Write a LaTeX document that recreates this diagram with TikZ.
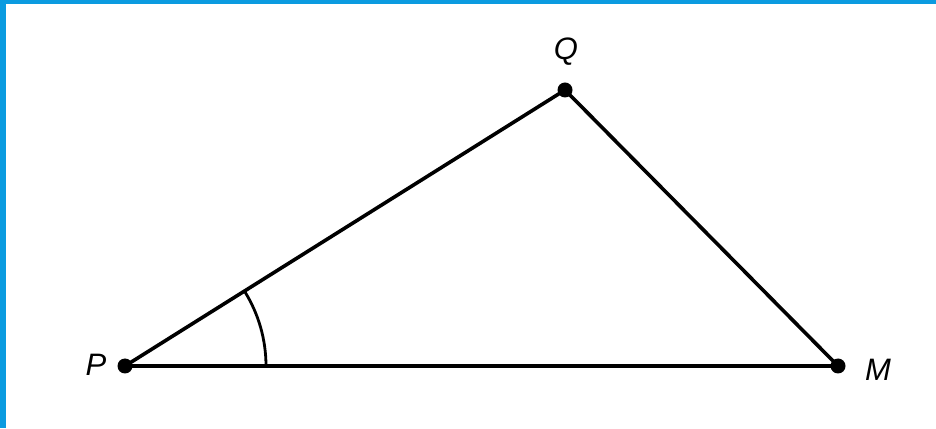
\documentclass[tikz,border=0pt]{standalone}
\usepackage{fontspec}
\setmainfont{Liberation Sans}
\definecolor{frameblue}{RGB}{11,155,224}
\begin{document}
\begin{tikzpicture}[x=1pt,y=1pt,
  edge/.style={line width=3.6pt,black},
  dot/.style={circle,fill=black,inner sep=0pt,minimum size=15pt},
  lab/.style={font=\fontsize{31}{31}\selectfont\itshape,inner sep=0pt}]
\useasboundingbox (0,0) rectangle (936,428);
\fill[white] (0,0) rectangle (936,428);
\fill[frameblue] (0,0) rectangle (6,428);
\fill[frameblue] (0,424) rectangle (936,428);
\coordinate (P) at (125,62);
\coordinate (Q) at (565,338);
\coordinate (M) at (838,62);
\draw[edge,line join=round] (P) -- (Q) -- (M) -- cycle;
\draw[line width=2.8pt] ([shift={(0:141)}]P) arc[start angle=0,end angle=32.1,radius=141];
\node[dot] (p) at (P) {};
\node[dot] (q) at (Q) {};
\node[dot] (m) at (M) {};
\node[lab] (lp) at (96,63) {P};
\node[lab] (lq) at (566,376) {Q};
\node[lab] (lm) at (878,58) {M};
\end{tikzpicture}
\end{document}
